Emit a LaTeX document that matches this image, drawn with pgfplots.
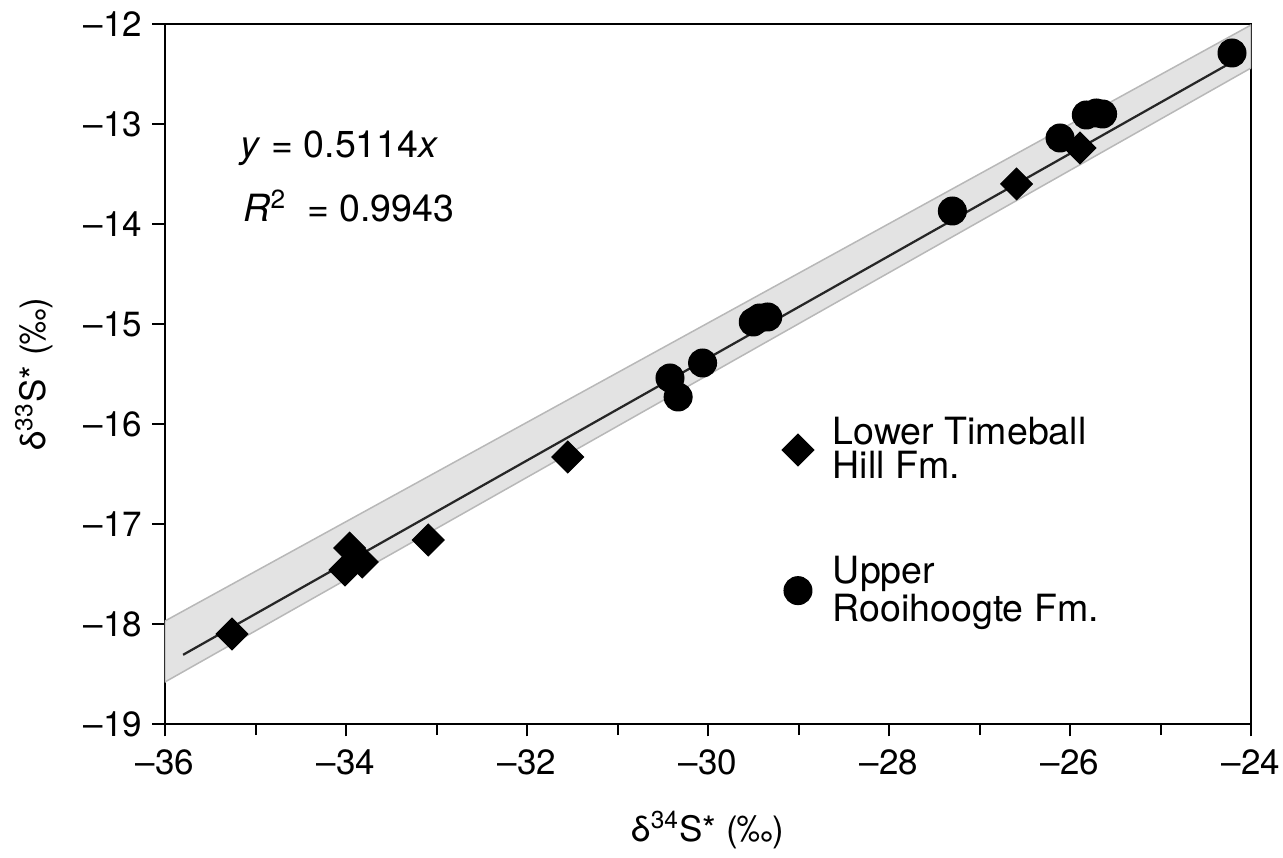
\documentclass[border=0pt]{standalone}
\usepackage{fontspec}
\setmainfont{TeX Gyre Heros}
\usepackage{pgfplots}
\usepackage{pgfplotstable}
\pgfplotsset{compat=1.18}

% Lower Timeball Hill Fm. (diamonds)
\pgfplotstableread{
x y
-35.26 -18.10
-33.96 -17.24
-34.01 -17.46
-33.82 -17.38
-33.09 -17.16
-31.55 -16.33
-26.59 -13.60
-25.89 -13.24
}\lowertb

% Upper Rooihoogte Fm. (circles)
\pgfplotstableread{
x y
-30.42 -15.54
-30.33 -15.73
-30.06 -15.39
-29.50 -14.98
-29.43 -14.94
-29.34 -14.93
-27.30 -13.87
-26.11 -13.14
-25.82 -12.91
-25.71 -12.89
-25.64 -12.90
-24.21 -12.29
}\upperro

\begin{document}
\begin{tikzpicture}
\begin{axis}[
  name=ax,
  scale only axis, width=434.4pt, height=280pt,
  xmin=-36, xmax=-24, ymin=-19, ymax=-12,
  axis line style={line width=0.8pt},
  xtick={-36,-34,...,-24}, minor xtick={-35,-33,...,-25},
  xticklabels={–36,–34,–32,–30,–28,–26,–24},
  ytick={-19,-18,...,-12},
  yticklabels={–19,–18,–17,–16,–15,–14,–13,–12},
  tick align=outside, xtick pos=bottom, ytick pos=left,
  major tick length=5pt, minor tick length=4.5pt,
  every tick/.style={line width=0.8pt, black},
  ticklabel style={font=\fontsize{14}{16}\selectfont, inner sep=0pt},
  xticklabel style={yshift=-5pt},
  yticklabel style={xshift=-4pt},
  xlabel={δ\textsuperscript{34}S* (‰)},
  ylabel={δ\textsuperscript{33}S* (‰)},
  label style={font=\fontsize{14}{16}\selectfont},
  xlabel style={at={([yshift=-42.4pt]axis description cs:0.5,0)}, anchor=center},
  ylabel style={at={([xshift=-52.4pt]axis description cs:0,0.5)}, anchor=center, rotate=0},
  legend style={at={(axis cs:-29.27,-15.83)}, anchor=north west,
    draw=none, fill=none, font=\fontsize{15}{13.5}\selectfont,
    row sep=25.5pt, column sep=5.6pt, cells={anchor=west, align=left}},
]
\addplot[forget plot, fill=black!11, draw=black!28, line width=0.6pt]
  coordinates {(-36,-17.97) (-24,-12.01) (-24,-12.44) (-36,-18.58)} -- cycle;
\addplot[forget plot, black!85, line width=0.9pt]
  coordinates {(-35.8,-18.308) (-24.2,-12.376)};
\addplot[only marks, mark=square*, mark size=4.5pt, mark options={rotate=45, fill=black}]
  table {\lowertb};
\addlegendentry{Lower Timeball\\Hill Fm.}
\addplot[only marks, mark=*, mark size=5.6pt, mark options={fill=black}]
  table {\upperro};
\addlegendentry{Upper\\Rooihoogte Fm.}
\node[anchor=base west, font=\fontsize{15}{18}\selectfont] at (axis cs:-35.26,-13.34)
  {\textit{y} = 0.5114\textit{x}};
\node[anchor=base west, font=\fontsize{15}{18}\selectfont] at (axis cs:-35.23,-13.98)
  {\textit{R}\textsuperscript{2}\ \ = 0.9943};
\end{axis}
\path ([shift={(-66pt,-52.4pt)}]ax.south west) rectangle ([shift={(12.8pt,9.6pt)}]ax.north east);
\end{tikzpicture}
\end{document}
